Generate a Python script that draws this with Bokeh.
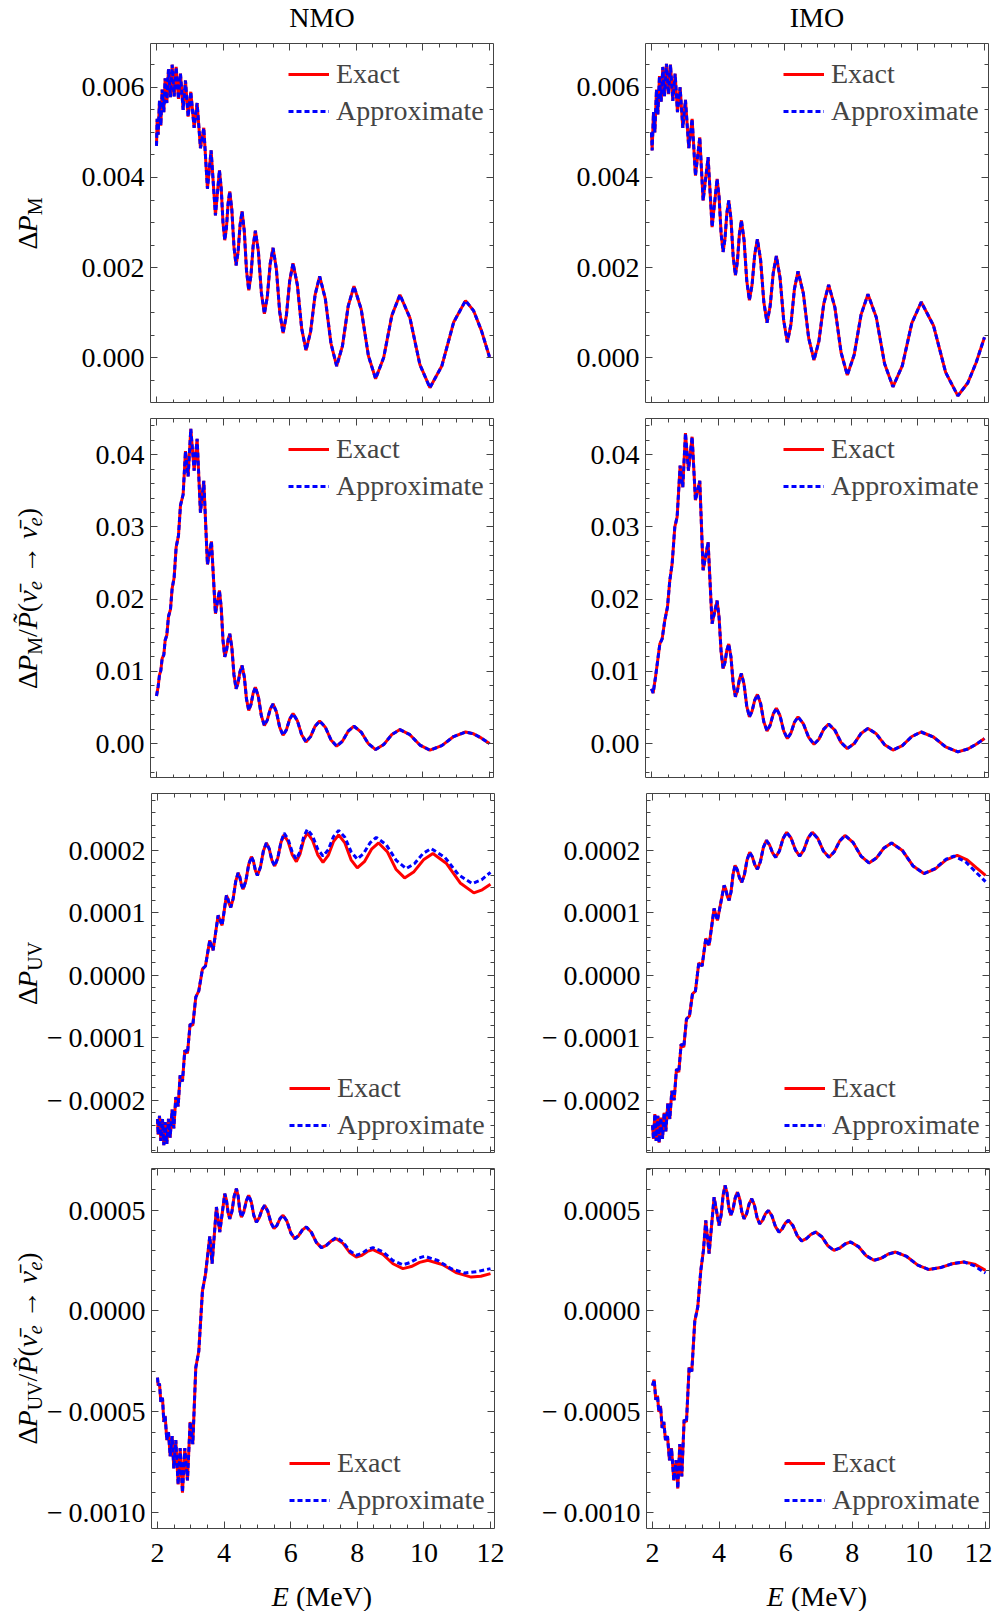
import math
import unicodedata
from bokeh.plotting import figure
from bokeh.models import (Range1d, SingleIntervalTicker, LinearAxis, Label, Legend,
                          LegendItem, CustomJSTickFormatter)
from bokeh.layouts import column, row
from bokeh.embed import file_html
from bokeh.resources import INLINE

# ---------------------------------------------------------------- data
# Energies in MeV; values in the unit given by the matching *_UNIT constant.
# Row 1: Delta P_M   (unit 1e-3)
nmo_pm_E = [2.00, 2.02, 2.05, 2.09, 2.13, 2.17, 2.22, 2.26, 2.31, 2.36, 2.42, 2.47, 2.53, 2.59, 2.66, 2.72, 2.80, 2.87, 2.95, 3.03,
            3.13, 3.22, 3.32, 3.42, 3.53, 3.64, 3.77, 3.89, 3.943, 3.997, 4.05, 4.10, 4.15, 4.20, 4.263, 4.327, 4.39, 4.45, 4.51, 4.57,
            4.637, 4.703, 4.77, 4.837, 4.903, 4.97, 5.06, 5.15, 5.24, 5.327, 5.413, 5.50, 5.60, 5.70, 5.80, 5.90, 6.00, 6.10, 6.23, 6.36,
            6.49, 6.627, 6.763, 6.90, 7.07, 7.24, 7.41, 7.583, 7.757, 7.93, 8.147, 8.363, 8.58, 8.823, 9.067, 9.31, 9.61, 9.91, 10.21, 10.567,
            10.923, 11.28, 11.52, 11.76, 12.00]
nmo_pm_V = [4.70, 5.30, 4.95, 5.70, 5.15, 5.95, 5.45, 6.20, 5.65, 6.40, 5.78, 6.50, 5.80, 6.45, 5.74, 6.30, 5.50, 6.15, 5.35, 5.90,
            5.10, 5.65, 4.65, 5.10, 3.75, 4.60, 3.16, 4.16, 3.77, 3.00, 2.61, 2.88, 3.42, 3.69, 3.28, 2.46, 2.05, 2.35, 2.95, 3.25,
            2.81, 1.94, 1.50, 1.83, 2.49, 2.82, 2.36, 1.44, 0.98, 1.35, 2.08, 2.44, 1.97, 1.02, 0.55, 0.94, 1.71, 2.10, 1.62, 0.65,
            0.17, 0.58, 1.40, 1.81, 1.31, 0.32, -0.18, 0.26, 1.15, 1.59, 1.08, 0.05, -0.46, 0.01, 0.94, 1.40, 0.89, -0.15, -0.66, -0.18,
            0.79, 1.27, 1.05, 0.60, 0.02]
imo_pm_E = [2.00, 2.02, 2.06, 2.10, 2.15, 2.19, 2.24, 2.29, 2.34, 2.39, 2.45, 2.51, 2.57, 2.64, 2.71, 2.78, 2.86, 2.94, 3.02, 3.12,
            3.22, 3.32, 3.45, 3.55, 3.70, 3.82, 3.97, 4.03, 4.09, 4.15, 4.207, 4.263, 4.32, 4.387, 4.453, 4.52, 4.58, 4.64, 4.70, 4.78,
            4.86, 4.94, 5.02, 5.10, 5.18, 5.277, 5.373, 5.47, 5.563, 5.657, 5.75, 5.86, 5.97, 6.08, 6.187, 6.293, 6.40, 6.56, 6.72, 6.88,
            7.027, 7.173, 7.32, 7.507, 7.693, 7.88, 8.087, 8.293, 8.50, 8.75, 9.00, 9.25, 9.533, 9.817, 10.10, 10.467, 10.833, 11.20, 11.50, 11.75,
            12.00]
imo_pm_V = [5.00, 4.60, 5.45, 5.00, 5.95, 5.40, 6.25, 5.68, 6.45, 5.80, 6.52, 5.85, 6.50, 5.70, 6.30, 5.45, 6.00, 5.10, 5.72, 4.65,
            5.30, 4.04, 4.89, 3.49, 4.45, 2.90, 3.97, 3.57, 2.76, 2.35, 2.64, 3.21, 3.49, 3.08, 2.25, 1.83, 2.14, 2.75, 3.05, 2.61,
            1.72, 1.28, 1.62, 2.29, 2.63, 2.17, 1.24, 0.78, 1.15, 1.89, 2.26, 1.78, 0.83, 0.35, 0.74, 1.53, 1.92, 1.43, 0.44, -0.05,
            0.37, 1.20, 1.62, 1.12, 0.12, -0.38, 0.07, 0.96, 1.41, 0.90, -0.13, -0.64, -0.17, 0.77, 1.24, 0.72, -0.32, -0.84, -0.55, -0.10,
            0.46]
PM_UNIT = 1e-3

# Row 2: Delta P_M / P(anti-nu_e -> anti-nu_e)   (unit 1e-3)
nmo_pmr_E = [2.00, 2.05, 2.09, 2.13, 2.17, 2.22, 2.26, 2.31, 2.36, 2.42, 2.47, 2.53, 2.59, 2.66, 2.72, 2.80, 2.87, 2.95, 3.03, 3.13,
             3.22, 3.32, 3.42, 3.53, 3.65, 3.77, 3.89, 3.943, 3.997, 4.05, 4.10, 4.15, 4.20, 4.263, 4.327, 4.39, 4.45, 4.51, 4.57, 4.637,
             4.703, 4.77, 4.837, 4.903, 4.97, 5.06, 5.15, 5.24, 5.327, 5.413, 5.50, 5.60, 5.70, 5.80, 5.90, 6.00, 6.10, 6.23, 6.36, 6.49,
             6.627, 6.763, 6.90, 7.07, 7.24, 7.41, 7.583, 7.757, 7.93, 8.147, 8.363, 8.58, 8.823, 9.067, 9.31, 9.61, 9.91, 10.21, 10.567, 10.923,
             11.28, 11.52, 11.76, 12.00]
nmo_pmr_V = [6.6, 7.9, 9.5, 10.1, 11.8, 12.3, 14.3, 15.0, 17.6, 18.6, 21.5, 23.0, 27.2, 28.8, 33.0, 34.5, 40.5, 37.0, 43.6, 37.8,
             42.2, 32.0, 36.4, 24.8, 28.0, 18.0, 21.2, 18.9, 14.3, 12.0, 12.8, 14.4, 15.2, 13.3, 9.5, 7.6, 8.4, 10.0, 10.8, 9.25,
             6.15, 4.6, 5.4, 7.0, 7.8, 6.48, 3.83, 2.5, 3.25, 4.75, 5.5, 4.41, 2.24, 1.15, 1.9, 3.4, 4.15, 3.17, 1.21, 0.23,
             0.96, 2.41, 3.14, 2.26, 0.51, -0.37, 0.32, 1.71, 2.4, 1.59, -0.02, -0.83, -0.14, 1.25, 1.94, 1.23, -0.21, -0.92, -0.29, 0.97,
             1.6, 1.35, 0.75, 0.0]
imo_pmr_E = [2.00, 2.05, 2.12, 2.18, 2.25, 2.32, 2.40, 2.48, 2.55, 2.62, 2.70, 2.77, 2.86, 2.94, 3.02, 3.11, 3.22, 3.32, 3.45, 3.55,
             3.70, 3.82, 3.97, 4.03, 4.09, 4.15, 4.207, 4.263, 4.32, 4.387, 4.453, 4.52, 4.58, 4.64, 4.70, 4.78, 4.86, 4.94, 5.02, 5.10,
             5.18, 5.277, 5.373, 5.47, 5.563, 5.657, 5.75, 5.86, 5.97, 6.08, 6.187, 6.293, 6.40, 6.56, 6.72, 6.88, 7.027, 7.173, 7.32, 7.507,
             7.693, 7.88, 8.087, 8.293, 8.50, 8.75, 9.00, 9.25, 9.533, 9.817, 10.10, 10.467, 10.833, 11.20, 11.50, 11.75, 12.00]
imo_pmr_V = [7.6, 7.0, 9.2, 11.3, 13.8, 14.5, 17.1, 18.9, 22.6, 24.9, 30.0, 31.4, 38.5, 35.5, 43.0, 37.8, 42.5, 33.7, 36.4, 24.0,
             27.9, 16.6, 19.8, 17.45, 12.75, 10.4, 11.25, 12.95, 13.8, 11.98, 8.33, 6.5, 7.3, 8.9, 9.7, 8.2, 5.2, 3.7, 4.48, 6.03,
             6.8, 5.54, 3.01, 1.75, 2.54, 4.11, 4.9, 3.85, 1.75, 0.7, 1.45, 2.95, 3.7, 2.75, 0.85, -0.1, 0.6, 2.0, 2.7, 1.85,
             0.15, -0.7, 0.0, 1.4, 2.1, 1.35, -0.15, -0.9, -0.28, 0.98, 1.6, 0.91, -0.46, -1.15, -0.75, -0.1, 0.7]
PMR_UNIT = 1e-3

# Row 3: Delta P_UV   (unit 1e-4)
nmo_uv_E = [2.00, 2.02, 2.06, 2.10, 2.15, 2.19, 2.23, 2.28, 2.33, 2.38, 2.44, 2.49, 2.55, 2.62, 2.68, 2.75, 2.82, 2.90, 2.98, 3.06,
            3.15, 3.24, 3.35, 3.44, 3.57, 3.67, 3.82, 3.94, 4.07, 4.113, 4.157, 4.20, 4.273, 4.347, 4.42, 4.47, 4.52, 4.57, 4.653, 4.737,
            4.82, 4.88, 4.94, 5.00, 5.09, 5.18, 5.27, 5.353, 5.437, 5.52, 5.613, 5.707, 5.80, 5.923, 6.047, 6.17, 6.28, 6.39, 6.50, 6.657,
            6.813, 6.97, 7.127, 7.283, 7.44, 7.627, 7.813, 8.00, 8.213, 8.427, 8.64, 8.90, 9.16, 9.42, 9.703, 9.987, 10.27, 10.68, 11.09, 11.50,
            11.75, 12.00]
nmo_uv_V = [-2.30, -2.55, -2.25, -2.65, -2.30, -2.72, -2.35, -2.70, -2.30, -2.60, -2.15, -2.45, -1.95, -2.10, -1.60, -1.70, -1.20, -1.25, -0.78, -0.80,
            -0.35, -0.25, 0.10, 0.15, 0.56, 0.40, 0.96, 0.80, 1.28, 1.23, 1.14, 1.09, 1.23, 1.50, 1.64, 1.58, 1.45, 1.38, 1.51, 1.77,
            1.90, 1.83, 1.68, 1.60, 1.73, 1.99, 2.12, 2.03, 1.84, 1.75, 1.88, 2.13, 2.25, 2.14, 1.93, 1.82, 1.94, 2.17, 2.28, 2.16,
            1.93, 1.81, 1.92, 2.14, 2.25, 2.12, 1.85, 1.72, 1.82, 2.02, 2.12, 1.98, 1.70, 1.56, 1.66, 1.85, 1.95, 1.79, 1.48, 1.32,
            1.37, 1.46]
nmo_uv_approx_tail_E = [5.80, 5.923, 6.047, 6.17, 6.28, 6.39, 6.50, 6.657, 6.813, 6.97, 7.127, 7.283, 7.44, 7.627, 7.813, 8.00, 8.19, 8.38, 8.57, 8.87,
                        9.17, 9.47, 9.72, 9.97, 10.22, 10.63, 11.04, 11.45, 11.73, 12.00]
nmo_uv_approx_tail_V = [2.28, 2.18, 1.97, 1.86, 1.98, 2.22, 2.34, 2.23, 2.02, 1.91, 2.01, 2.22, 2.32, 2.21, 1.98, 1.86, 1.95, 2.12, 2.21, 2.09,
                        1.84, 1.71, 1.79, 1.95, 2.03, 1.89, 1.61, 1.47, 1.53, 1.65]
imo_uv_E = [2.00, 2.03, 2.07, 2.11, 2.16, 2.20, 2.25, 2.30, 2.35, 2.40, 2.46, 2.52, 2.58, 2.65, 2.72, 2.79, 2.86, 2.94, 3.02, 3.11,
            3.20, 3.29, 3.39, 3.49, 3.60, 3.70, 3.85, 3.95, 4.15, 4.20, 4.25, 4.30, 4.36, 4.42, 4.48, 4.547, 4.613, 4.68, 4.76, 4.84,
            4.92, 4.997, 5.073, 5.15, 5.24, 5.33, 5.42, 5.513, 5.607, 5.70, 5.81, 5.92, 6.03, 6.16, 6.29, 6.42, 6.547, 6.673, 6.80, 6.967,
            7.133, 7.30, 7.46, 7.62, 7.78, 8.02, 8.26, 8.50, 8.727, 8.953, 9.18, 9.503, 9.827, 10.15, 10.483, 10.817, 11.15, 11.45, 11.73, 12.00]
imo_uv_V = [-2.40, -2.62, -2.22, -2.65, -2.25, -2.68, -2.28, -2.62, -2.20, -2.50, -2.05, -2.30, -1.85, -2.00, -1.50, -1.55, -1.10, -1.15, -0.70, -0.65,
            -0.30, -0.25, 0.20, 0.15, 0.59, 0.48, 1.07, 0.88, 1.44, 1.38, 1.26, 1.20, 1.34, 1.62, 1.76, 1.69, 1.56, 1.49, 1.61, 1.85,
            1.97, 1.90, 1.77, 1.70, 1.82, 2.05, 2.16, 2.09, 1.96, 1.89, 1.99, 2.19, 2.29, 2.20, 2.01, 1.91, 2.01, 2.20, 2.29, 2.19,
            1.99, 1.89, 1.98, 2.15, 2.24, 2.13, 1.91, 1.80, 1.88, 2.04, 2.12, 2.00, 1.75, 1.63, 1.70, 1.85, 1.92, 1.85, 1.72, 1.60]
imo_uv_approx_tail_E = [10.483, 10.817, 11.05, 11.40, 11.70, 12.00]
imo_uv_approx_tail_V = [1.71, 1.86, 1.91, 1.82, 1.66, 1.50]
UV_UNIT = 1e-4

# Row 4: Delta P_UV / P(anti-nu_e -> anti-nu_e)   (unit 1e-3)
nmo_uvr_E = [2.00, 2.02, 2.06, 2.10, 2.15, 2.19, 2.23, 2.28, 2.33, 2.38, 2.44, 2.49, 2.55, 2.62, 2.68, 2.75, 2.82, 2.90, 2.98, 3.06,
             3.15, 3.24, 3.35, 3.44, 3.57, 3.64, 3.77, 3.87, 4.02, 4.07, 4.12, 4.17, 4.237, 4.303, 4.37, 4.42, 4.47, 4.52, 4.593, 4.667,
             4.74, 4.817, 4.893, 4.97, 5.053, 5.137, 5.22, 5.313, 5.407, 5.50, 5.59, 5.68, 5.77, 5.887, 6.003, 6.12, 6.237, 6.353, 6.47, 6.62,
             6.77, 6.92, 7.07, 7.22, 7.37, 7.57, 7.77, 7.97, 8.137, 8.303, 8.47, 8.77, 9.07, 9.37, 9.62, 9.87, 10.12, 10.553, 10.987, 11.42,
             11.71, 12.00]
nmo_uvr_V = [-0.33, -0.37, -0.36, -0.45, -0.43, -0.55, -0.52, -0.64, -0.60, -0.72, -0.62, -0.78, -0.64, -0.86, -0.68, -0.90, -0.68, -0.84, -0.55, -0.66,
             -0.28, -0.20, 0.10, 0.18, 0.37, 0.234, 0.515, 0.391, 0.581, 0.55, 0.488, 0.457, 0.494, 0.569, 0.606, 0.571, 0.50, 0.465, 0.492, 0.546,
             0.573, 0.54, 0.473, 0.44, 0.461, 0.502, 0.523, 0.494, 0.437, 0.408, 0.425, 0.458, 0.474, 0.445, 0.387, 0.358, 0.373, 0.402, 0.416, 0.39,
             0.34, 0.314, 0.325, 0.347, 0.358, 0.335, 0.29, 0.267, 0.276, 0.295, 0.304, 0.28, 0.234, 0.21, 0.22, 0.241, 0.251, 0.23, 0.189, 0.168,
             0.172, 0.185]
nmo_uvr_approx_tail_E = [7.37, 7.57, 7.77, 7.97, 8.137, 8.303, 8.47, 8.77, 9.07, 9.37, 9.587, 9.803, 10.02, 10.42, 10.82, 11.22, 11.60, 12.00]
nmo_uvr_approx_tail_V = [0.365, 0.342, 0.298, 0.276, 0.285, 0.304, 0.314, 0.293, 0.25, 0.229, 0.24, 0.26, 0.271, 0.25, 0.209, 0.188, 0.195, 0.21]
imo_uvr_E = [2.00, 2.05, 2.10, 2.15, 2.19, 2.24, 2.29, 2.34, 2.39, 2.45, 2.51, 2.57, 2.64, 2.71, 2.76, 2.82, 2.88, 2.95, 3.02, 3.10,
             3.18, 3.27, 3.36, 3.45, 3.53, 3.60, 3.70, 3.85, 4.00, 4.06, 4.12, 4.18, 4.237, 4.293, 4.35, 4.417, 4.483, 4.55, 4.617, 4.683,
             4.75, 4.827, 4.903, 4.98, 5.06, 5.14, 5.22, 5.307, 5.393, 5.48, 5.587, 5.693, 5.80, 5.893, 5.987, 6.08, 6.213, 6.347, 6.48, 6.62,
             6.76, 6.90, 7.083, 7.267, 7.45, 7.617, 7.783, 7.95, 8.183, 8.417, 8.65, 8.867, 9.083, 9.30, 9.633, 9.967, 10.30, 10.65, 11.00, 11.35,
             11.67, 12.00]
imo_uvr_V = [-0.37, -0.34, -0.44, -0.42, -0.50, -0.47, -0.58, -0.55, -0.64, -0.62, -0.74, -0.68, -0.84, -0.74, -0.88, -0.66, -0.82, -0.54, -0.55, -0.28,
             -0.30, -0.05, 0.02, 0.20, 0.30, 0.449, 0.284, 0.564, 0.424, 0.474, 0.573, 0.622, 0.585, 0.511, 0.474, 0.503, 0.56, 0.589, 0.556, 0.49,
             0.457, 0.482, 0.531, 0.556, 0.525, 0.463, 0.432, 0.449, 0.482, 0.498, 0.471, 0.418, 0.391, 0.406, 0.435, 0.449, 0.424, 0.373, 0.347, 0.358,
             0.38, 0.391, 0.368, 0.323, 0.30, 0.311, 0.332, 0.342, 0.319, 0.274, 0.251, 0.261, 0.282, 0.292, 0.27, 0.227, 0.205, 0.215, 0.234, 0.243,
             0.232, 0.201]
imo_uvr_approx_tail_E = [11.65, 12.00]
imo_uvr_approx_tail_V = [0.225, 0.188]
UVR_UNIT = 1e-3

column_titles = ["NMO", "IMO"]
legend_labels = ["Exact", "Approximate"]
x_axis_label = ("E", "(MeV)")

# ---------------------------------------------------------------- style / layout
FONT = "Liberation Serif"
FS = 28
SUB = 20
FRAME_W, FRAME_H = 343, 360
STRIP_W = 44            # column holding the rotated y titles
LEFT_B = [106, 142]     # left borders of the two panel columns
RIGHT_B = [10, 3]
TITLE_H = 43
XLAB_H = 36
ROW_GAP = 15
BOTTOM_B = 47
RED, BLUE = "#ff0000", "#0000ff"
FRAME_COLOR = "#444444"
TOTAL_W = STRIP_W + LEFT_B[0] + FRAME_W + RIGHT_B[0] + LEFT_B[1] + FRAME_W + RIGHT_B[1]
FRAME_X0 = [STRIP_W + LEFT_B[0], STRIP_W + LEFT_B[0] + FRAME_W + RIGHT_B[0] + LEFT_B[1]]
YLAB_X = 27             # centre line of the rotated y titles inside the strip
SUB_SHIFT = 7

W_UP = {"\u0394": 0.612, "M": 0.889, "U": 0.722, "V": 0.722, "/": 0.278, "(": 0.333, ")": 0.333,
        " ": 0.25, "\u00a0": 0.25, "\u2192": 1.0, "e": 0.444, "E": 0.611}
W_IT = {"P": 0.611, "\u03bd": 0.46, "e": 0.444, "E": 0.611}


def text_w(s, italic, size):
    tbl = W_IT if italic else W_UP
    return sum(0.0 if unicodedata.combining(c) else tbl.get(c, 0.5) for c in s) * size


def tick_fmt(dec):
    return CustomJSTickFormatter(code="""
        const t = Math.abs(tick) < 1e-12 ? 0 : tick;
        const s = Math.abs(t).toFixed(%d);
        return (t < 0 ? "\\u2212\\u2009" : "") + s;
    """ % dec)


def style_axis(ax, ticker, show, standoff=6, fmt=None):
    ax.ticker = ticker
    ax.axis_line_color = None
    ax.major_tick_in = 7
    ax.major_tick_out = 0
    ax.minor_tick_in = 4
    ax.minor_tick_out = 0
    ax.major_tick_line_color = FRAME_COLOR
    ax.minor_tick_line_color = FRAME_COLOR
    if show:
        ax.major_label_text_font = FONT
        ax.major_label_text_font_size = f"{FS}px"
        ax.major_label_text_color = "black"
        ax.major_label_standoff = standoff
        if fmt is not None:
            ax.formatter = fmt
    else:
        ax.major_label_text_font_size = "1px"
        ax.major_label_text_color = None
        ax.major_label_text_alpha = 0
        ax.major_label_standoff = 0


def blank_fig(w, h, top=0, bottom=0):
    f = figure(frame_width=w, frame_height=h, x_range=Range1d(0, w), y_range=Range1d(0, h),
               output_backend="svg", toolbar_location=None, x_axis_location=None,
               y_axis_location=None, min_border_left=0, min_border_right=0,
               min_border_top=top, min_border_bottom=bottom, outline_line_color=None)
    f.xgrid.visible = False
    f.ygrid.visible = False
    return f


def text_at(f, text, x, y, italic, size, angle=0.0, align="left", baseline="alphabetic"):
    f.add_layout(Label(x=x, y=y, text=text, angle=angle,
                       text_font=FONT, text_font_size=f"{size}px",
                       text_font_style="italic" if italic else "normal",
                       text_align=align, text_baseline=baseline, text_color="black"))


def strip(pieces, top):
    f = blank_fig(STRIP_W, FRAME_H, top=top)
    total = sum(text_w(t, it, sz) for t, it, sz, sub in pieces)
    y = FRAME_H / 2 - total / 2
    for t, it, sz, sub in pieces:
        text_at(f, t, YLAB_X + (SUB_SHIFT if sub else 0), y, it, sz, angle=math.pi / 2,
                baseline="middle")
        y += text_w(t, it, sz)
    return f


def panel(E, V, EA, VA, unit, yr, yint, yminor, ydec, col, rowi, legend_top):
    p = figure(frame_width=FRAME_W, frame_height=FRAME_H,
               x_range=Range1d(1.82, 12.12), y_range=Range1d(*yr),
               output_backend="svg", toolbar_location=None,
               min_border_left=LEFT_B[col], min_border_right=RIGHT_B[col],
               min_border_top=0 if rowi == 0 else ROW_GAP,
               min_border_bottom=BOTTOM_B if rowi == 3 else 0,
               outline_line_color=FRAME_COLOR, outline_line_width=1)
    p.xgrid.visible = False
    p.ygrid.visible = False
    style_axis(p.xaxis[0], SingleIntervalTicker(interval=2, num_minor_ticks=4), rowi == 3, standoff=15)
    style_axis(p.yaxis[0], SingleIntervalTicker(interval=yint, num_minor_ticks=yminor), True,
               standoff=6, fmt=tick_fmt(ydec))
    top_ax = LinearAxis()
    style_axis(top_ax, SingleIntervalTicker(interval=2, num_minor_ticks=4), False)
    p.add_layout(top_ax, "above")
    right_ax = LinearAxis()
    style_axis(right_ax, SingleIntervalTicker(interval=yint, num_minor_ticks=yminor), False)
    p.add_layout(right_ax, "right")

    assert len(E) == len(V) and len(EA) == len(VA)
    r1 = p.line(E, [v * unit for v in V], line_color=RED, line_width=3)
    r2 = p.line(EA, [v * unit for v in VA], line_color=BLUE, line_width=3, line_dash="5 3")

    lg = Legend(items=[LegendItem(label=legend_labels[0], renderers=[r1]),
                       LegendItem(label=legend_labels[1], renderers=[r2])],
                location=(138, 276 if legend_top else 12),
                label_text_font=FONT, label_text_font_size=f"{FS}px",
                glyph_width=41, glyph_height=32, label_height=32, label_standoff=7,
                spacing=5, padding=0, margin=0, border_line_color=None,
                background_fill_alpha=0)
    p.add_layout(lg)
    return p


NB = "\u00a0"
ratio_tail = [("/", False, FS, False), ("P\u0303", True, FS, False), ("(", False, FS, False),
              ("\u03bd\u0304", True, FS, False), ("e", True, SUB, True), (NB + "\u2192" + NB, False, FS, False),
              ("\u03bd\u0304", True, FS, False), ("e", True, SUB, True), (")", False, FS, False)]
lab_pm = [("\u0394", False, FS, False), ("P", True, FS, False), ("M", False, SUB, True)]
lab_uv = [("\u0394", False, FS, False), ("P", True, FS, False), ("UV", False, SUB, True)]
ylabels = [lab_pm, lab_pm + ratio_tail, lab_uv, lab_uv + ratio_tail]

rows_cfg = [
    # (nmo E, V, approx E, V), (imo ...), unit, yrange, interval, minor, decimals, legend_top
    ((nmo_pm_E, nmo_pm_V, nmo_pm_E, nmo_pm_V), (imo_pm_E, imo_pm_V, imo_pm_E, imo_pm_V),
     PM_UNIT, (-0.00101, 0.00697), 0.002, 4, 3, True),
    ((nmo_pmr_E, nmo_pmr_V, nmo_pmr_E, nmo_pmr_V), (imo_pmr_E, imo_pmr_V, imo_pmr_E, imo_pmr_V),
     PMR_UNIT, (-0.00484, 0.04503), 0.01, 5, 2, True),
    ((nmo_uv_E, nmo_uv_V, nmo_uv_E[:52] + nmo_uv_approx_tail_E, nmo_uv_V[:52] + nmo_uv_approx_tail_V),
     (imo_uv_E, imo_uv_V, imo_uv_E[:74] + imo_uv_approx_tail_E, imo_uv_V[:74] + imo_uv_approx_tail_V),
     UV_UNIT, (-0.0002853, 0.0002912), 0.0001, 5, 4, False),
    ((nmo_uvr_E, nmo_uvr_V, nmo_uvr_E[:64] + nmo_uvr_approx_tail_E, nmo_uvr_V[:64] + nmo_uvr_approx_tail_V),
     (imo_uvr_E, imo_uvr_V, imo_uvr_E[:80] + imo_uvr_approx_tail_E, imo_uvr_V[:80] + imo_uvr_approx_tail_V),
     UVR_UNIT, (-0.001078, 0.000706), 0.0005, 5, 4, False),
]

# titles above the columns
title_fig = blank_fig(TOTAL_W, TITLE_H)
for ci, t in enumerate(column_titles):
    text_at(title_fig, t, FRAME_X0[ci] + FRAME_W / 2, TITLE_H - 17, False, FS,
            align="center", baseline="middle")

rows = [title_fig]
for ri, (nmo, imo, unit, yr, yint, yminor, ydec, ltop) in enumerate(rows_cfg):
    figs = [strip(ylabels[ri], 0 if ri == 0 else ROW_GAP)]
    for ci, d in enumerate((nmo, imo)):
        figs.append(panel(d[0], d[1], d[2], d[3], unit, yr, yint, yminor, ydec, ci, ri, ltop))
    rows.append(row(*figs))

# x-axis titles below the bottom row
xlab_fig = blank_fig(TOTAL_W, XLAB_H)
w1 = text_w(x_axis_label[0], True, FS)
wsp = text_w(" ", False, FS)
w2 = text_w(x_axis_label[1], False, FS)
for ci in range(2):
    x0 = FRAME_X0[ci] + FRAME_W / 2 - (w1 + wsp + w2) / 2
    text_at(xlab_fig, x_axis_label[0], x0, XLAB_H - 21, True, FS, baseline="middle")
    text_at(xlab_fig, x_axis_label[1], x0 + w1 + wsp, XLAB_H - 21, False, FS, baseline="middle")
rows.append(xlab_fig)

layout = column(*rows)
open("out.html", "w").write(file_html(layout, INLINE, "Delta P"))
